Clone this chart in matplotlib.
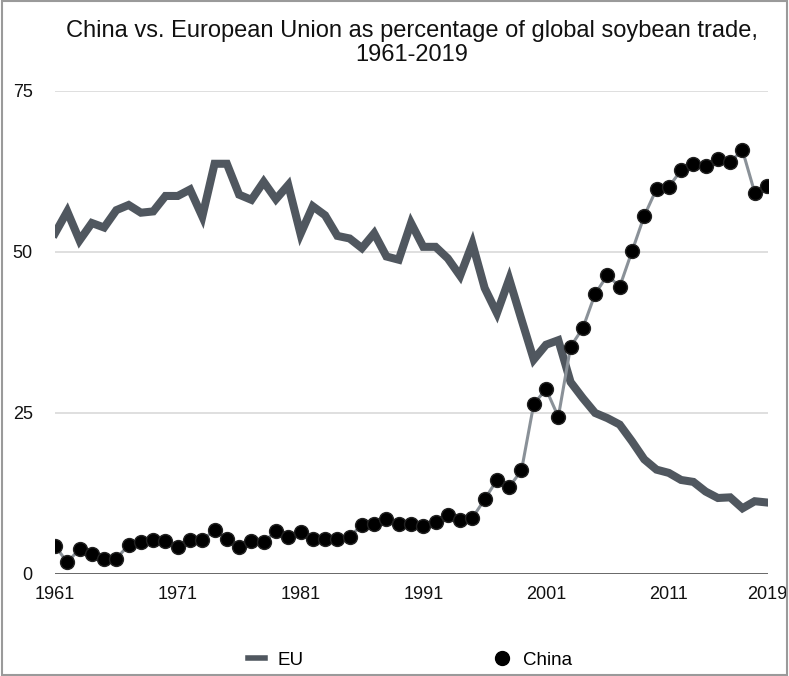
import matplotlib
matplotlib.use('Agg')
import matplotlib.pyplot as plt
from matplotlib.lines import Line2D
from matplotlib.patches import Rectangle

plt.rcParams['font.family'] = ['Liberation Sans', 'DejaVu Sans']

# 데이터
years = list(range(1961, 2020))
eu = [52.9, 56.3, 51.8, 54.5, 53.8, 56.5, 57.3, 56.1, 56.3, 58.7,
      58.7, 59.7, 55.5, 63.7, 63.7, 58.9, 58.1, 60.9, 58.2, 60.4,
      52.8, 57.1, 55.7, 52.5, 52.1, 50.6, 52.9, 49.3, 48.8, 54.5,
      50.8, 50.8, 49.0, 46.3, 51.3, 44.4, 40.5, 45.8, 39.5, 33.3,
      35.6, 36.3, 29.8, 27.3, 25.0, 24.2, 23.2, 20.6, 17.8, 16.2,
      15.7, 14.6, 14.3, 12.8, 11.8, 11.9, 10.2, 11.3, 11.1]
china = [4.4, 1.8, 3.9, 3.1, 2.4, 2.4, 4.5, 5.0, 5.3, 5.2,
         4.2, 5.3, 5.3, 6.8, 5.5, 4.2, 5.2, 5.0, 6.6, 5.8,
         6.5, 5.4, 5.4, 5.4, 5.8, 7.6, 7.7, 8.6, 7.7, 7.7,
         7.5, 8.0, 9.1, 8.4, 8.7, 11.6, 14.6, 13.5, 16.1, 26.4,
         28.7, 24.4, 35.3, 38.2, 43.5, 46.4, 44.6, 50.1, 55.6, 59.8,
         60.1, 62.7, 63.7, 63.4, 64.5, 64.0, 65.8, 59.2, 60.3]
xtick_years = [1961, 1971, 1981, 1991, 2001, 2011, 2019]
ytick_vals = [0, 25, 50, 75]

eu_color = '#50575f'
china_line = '#8a9198'

fig = plt.figure(figsize=(7.89, 6.76), dpi=100)
ax = fig.add_axes([0.0697, 0.1509, 0.904, 0.7145])

# 그리드
for v in ytick_vals[1:]:
    ax.axhline(v, color='#dcdcdc', linewidth=1.3, zorder=0)
ax.axhline(0, color='#3a3a3a', linewidth=1.8, zorder=1)

ax.plot(years, eu, color=eu_color, linewidth=5.8, solid_joinstyle='miter', zorder=2)
ax.plot(years, china, color=china_line, linewidth=2.2, zorder=3)
ax.plot(years, china, linestyle='none', marker='o', markersize=10,
        markerfacecolor='black', markeredgecolor='#222222', zorder=4)

ax.set_xlim(1961, 2019.1)
ax.set_ylim(0, 75)
ax.set_xticks(xtick_years)
ax.set_xticklabels([str(y) for y in xtick_years])
ax.set_yticks(ytick_vals)
ax.tick_params(axis='both', length=0, labelsize=13, colors='#111111')
ax.tick_params(axis='x', pad=9)
ax.tick_params(axis='y', pad=16)
for s in ax.spines.values():
    s.set_visible(False)

fig.text(0.522, 0.9365,
         'China vs. European Union as percentage of global soybean trade,\n1961-2019',
         ha='center', va='center', fontsize=17, linespacing=1.15, color='#111111')

handles = [
    Line2D([0], [0], color=eu_color, linewidth=4),
    Line2D([0], [0], linestyle='none', marker='o', markersize=10,
           markerfacecolor='black', markeredgecolor='black'),
]
fig.legend(handles, ['EU', 'China'], ncol=2, loc='center left',
           bbox_to_anchor=(0.314, 0.0237), frameon=False, fontsize=13.5,
           handlelength=0.9, handletextpad=0.7, columnspacing=10.1,
           borderpad=0, borderaxespad=0)

# 바깥 테두리
fig.patches.append(Rectangle((0.002, 0.002), 0.996, 0.996, transform=fig.transFigure,
                             fill=False, edgecolor='#9a9a9a', linewidth=1.5))

plt.savefig('out.png', dpi=100)
